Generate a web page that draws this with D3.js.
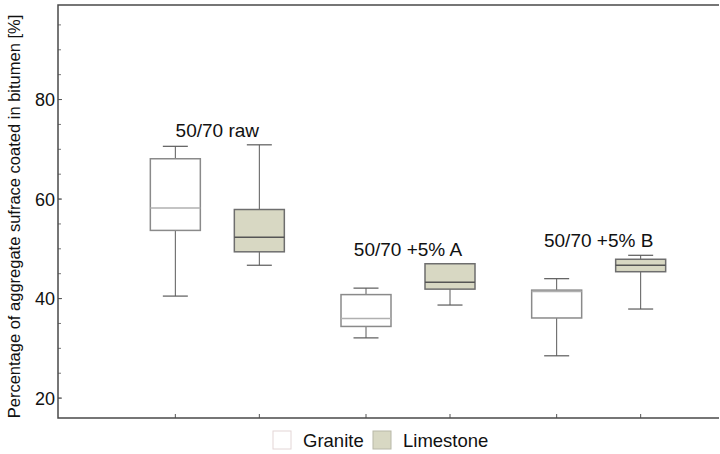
<!DOCTYPE html>
<html>
<head>
<meta charset="utf-8">
<script src="https://cdn.jsdelivr.net/npm/d3@7"></script>
<style>
  body { margin: 0; background: #fff; }
  svg { display: block; font-family: "Liberation Sans", Arial, sans-serif; }
</style>
</head>
<body>
<svg id="chart" width="720" height="454"></svg>
<script>
// datos: [min, q1, mediana, q3, max]
const groups = ["50/70 raw", "50/70 +5% A", "50/70 +5% B"];
const series = ["Granite", "Limestone"];
const graniteStats = [
    [40.4, 53.6, 58.1, 68.0, 70.5],
    [32.0, 34.3, 35.9, 40.7, 42.0],
    [28.4, 36.0, 41.3, 41.6, 43.9]
];
const limestoneStats = [
    [46.6, 49.3, 52.2, 57.8, 70.8],
    [38.6, 41.8, 43.2, 46.9, 46.9],
    [37.8, 45.3, 46.6, 47.8, 48.6]
];
const yTicks = [20, 40, 60, 80];
const yMinorTicks = [20, 25, 30, 35, 40, 45, 50, 55, 60, 65, 70, 75, 80, 85, 90, 95];

const colores = { "Granite": "#ffffff", "Limestone": "#d8d8c3" };
const bordes = { "Granite": "#8a8a8a", "Limestone": "#6e6e6e" };
const medianas = { "Granite": "#b0b0b0", "Limestone": "#555555" };

const width = 720, height = 454;
const margin = { top: 5, right: 1, bottom: 36, left: 58 };

const svg = d3.select("#chart");

const y = d3.scaleLinear()
    .domain([15.9, 98.9])
    .range([height - margin.bottom, margin.top]);

const x = d3.scaleBand()
    .domain(groups)
    .range([122, 694]);

const xInner = d3.scalePoint()
    .domain(series)
    .range([-42, 42]);

const boxW = 50, capW = 25;

// filas planas para dibujar
const filas = [];
groups.forEach((g, i) => {
    filas.push({ group: g, serie: "Granite", s: graniteStats[i] });
    filas.push({ group: g, serie: "Limestone", s: limestoneStats[i] });
});
const cx = d => x(d.group) + x.bandwidth() / 2 + xInner(d.serie);

// ejes
const plotBottom = height - margin.bottom;
const plotRight = width - margin.right;

svg.append("g")
    .attr("transform", `translate(${margin.left},0)`)
    .call(d3.axisRight(y).tickValues(yMinorTicks).tickSize(3).tickFormat(""))
    .call(g => g.select(".domain").remove())
    .call(g => g.selectAll("line").attr("stroke", "#777"));

svg.append("g")
    .attr("transform", `translate(${margin.left},0)`)
    .call(d3.axisRight(y).tickValues(yTicks).tickSize(4).tickFormat(d3.format("d")))
    .call(g => g.select(".domain").remove())
    .call(g => g.selectAll("line").attr("stroke", "#555"))
    .call(g => g.selectAll("text")
        .attr("x", -3)
        .attr("dy", "0.36em")
        .attr("text-anchor", "end")
        .attr("fill", "#111")
        .style("font-size", "18px"));

// marcas del eje x en el centro de cada caja
svg.append("g")
    .selectAll("line")
    .data(filas)
    .enter()
    .append("line")
    .attr("x1", cx).attr("x2", cx)
    .attr("y1", plotBottom).attr("y2", plotBottom - 4)
    .attr("stroke", "#555");

// marco
svg.append("path")
    .attr("d", `M${plotRight},${margin.top}H${margin.left}V${plotBottom}H${plotRight}`)
    .attr("fill", "none")
    .attr("stroke", "#4a4a4a")
    .attr("stroke-width", 1.5);

// cajas
const cajas = svg.append("g")
    .selectAll("g")
    .data(filas)
    .enter()
    .append("g");

cajas.append("line")
    .attr("x1", cx).attr("x2", cx)
    .attr("y1", d => y(d.s[0])).attr("y2", d => y(d.s[4]))
    .attr("stroke", "#5a5a5a");

cajas.append("line")
    .attr("x1", d => cx(d) - capW / 2).attr("x2", d => cx(d) + capW / 2)
    .attr("y1", d => y(d.s[0])).attr("y2", d => y(d.s[0]))
    .attr("stroke", "#5a5a5a").attr("stroke-width", 1.2);

cajas.append("line")
    .attr("x1", d => cx(d) - capW / 2).attr("x2", d => cx(d) + capW / 2)
    .attr("y1", d => y(d.s[4])).attr("y2", d => y(d.s[4]))
    .attr("stroke", "#5a5a5a").attr("stroke-width", 1.2);

cajas.append("rect")
    .attr("x", d => cx(d) - boxW / 2)
    .attr("width", boxW)
    .attr("y", d => y(d.s[3]))
    .attr("height", d => y(d.s[1]) - y(d.s[3]))
    .style("fill", d => colores[d.serie])
    .style("stroke", d => bordes[d.serie])
    .style("stroke-width", 1.5);

cajas.append("line")
    .attr("x1", d => cx(d) - boxW / 2).attr("x2", d => cx(d) + boxW / 2)
    .attr("y1", d => y(d.s[2])).attr("y2", d => y(d.s[2]))
    .attr("stroke", d => medianas[d.serie]).attr("stroke-width", 1.5);

// etiquetas de grupo sobre el bigote más alto
svg.append("g")
    .selectAll("text")
    .data(groups)
    .enter()
    .append("text")
    .attr("x", d => x(d) + x.bandwidth() / 2)
    .attr("y", (d, i) => y(Math.max(graniteStats[i][4], limestoneStats[i][4])) - 8)
    .attr("text-anchor", "middle")
    .attr("fill", "#111")
    .style("font-size", "19px")
    .text(d => d);

// título del eje y
svg.append("text")
    .attr("transform", `translate(20,${(margin.top + plotBottom) / 2 + 5}) rotate(-90)`)
    .attr("text-anchor", "middle")
    .attr("fill", "#111")
    .style("font-size", "16.5px")
    .text("Percentage of aggregate sufrace coated in bitumen [%]");

// leyenda
const legendX = [273, 373];
const legend = svg.append("g")
    .selectAll("g")
    .data(series)
    .enter()
    .append("g")
    .attr("transform", (d, i) => `translate(${legendX[i]},431)`);

legend.append("rect")
    .attr("width", 18).attr("height", 18)
    .style("fill", d => colores[d])
    .style("stroke", d => d === "Granite" ? "#e3d6d6" : "#b8b8a8");

legend.append("text")
    .attr("x", 30).attr("y", 15.5)
    .attr("fill", "#111")
    .style("font-size", "18.5px")
    .text(d => d);
</script>
</body>
</html>
